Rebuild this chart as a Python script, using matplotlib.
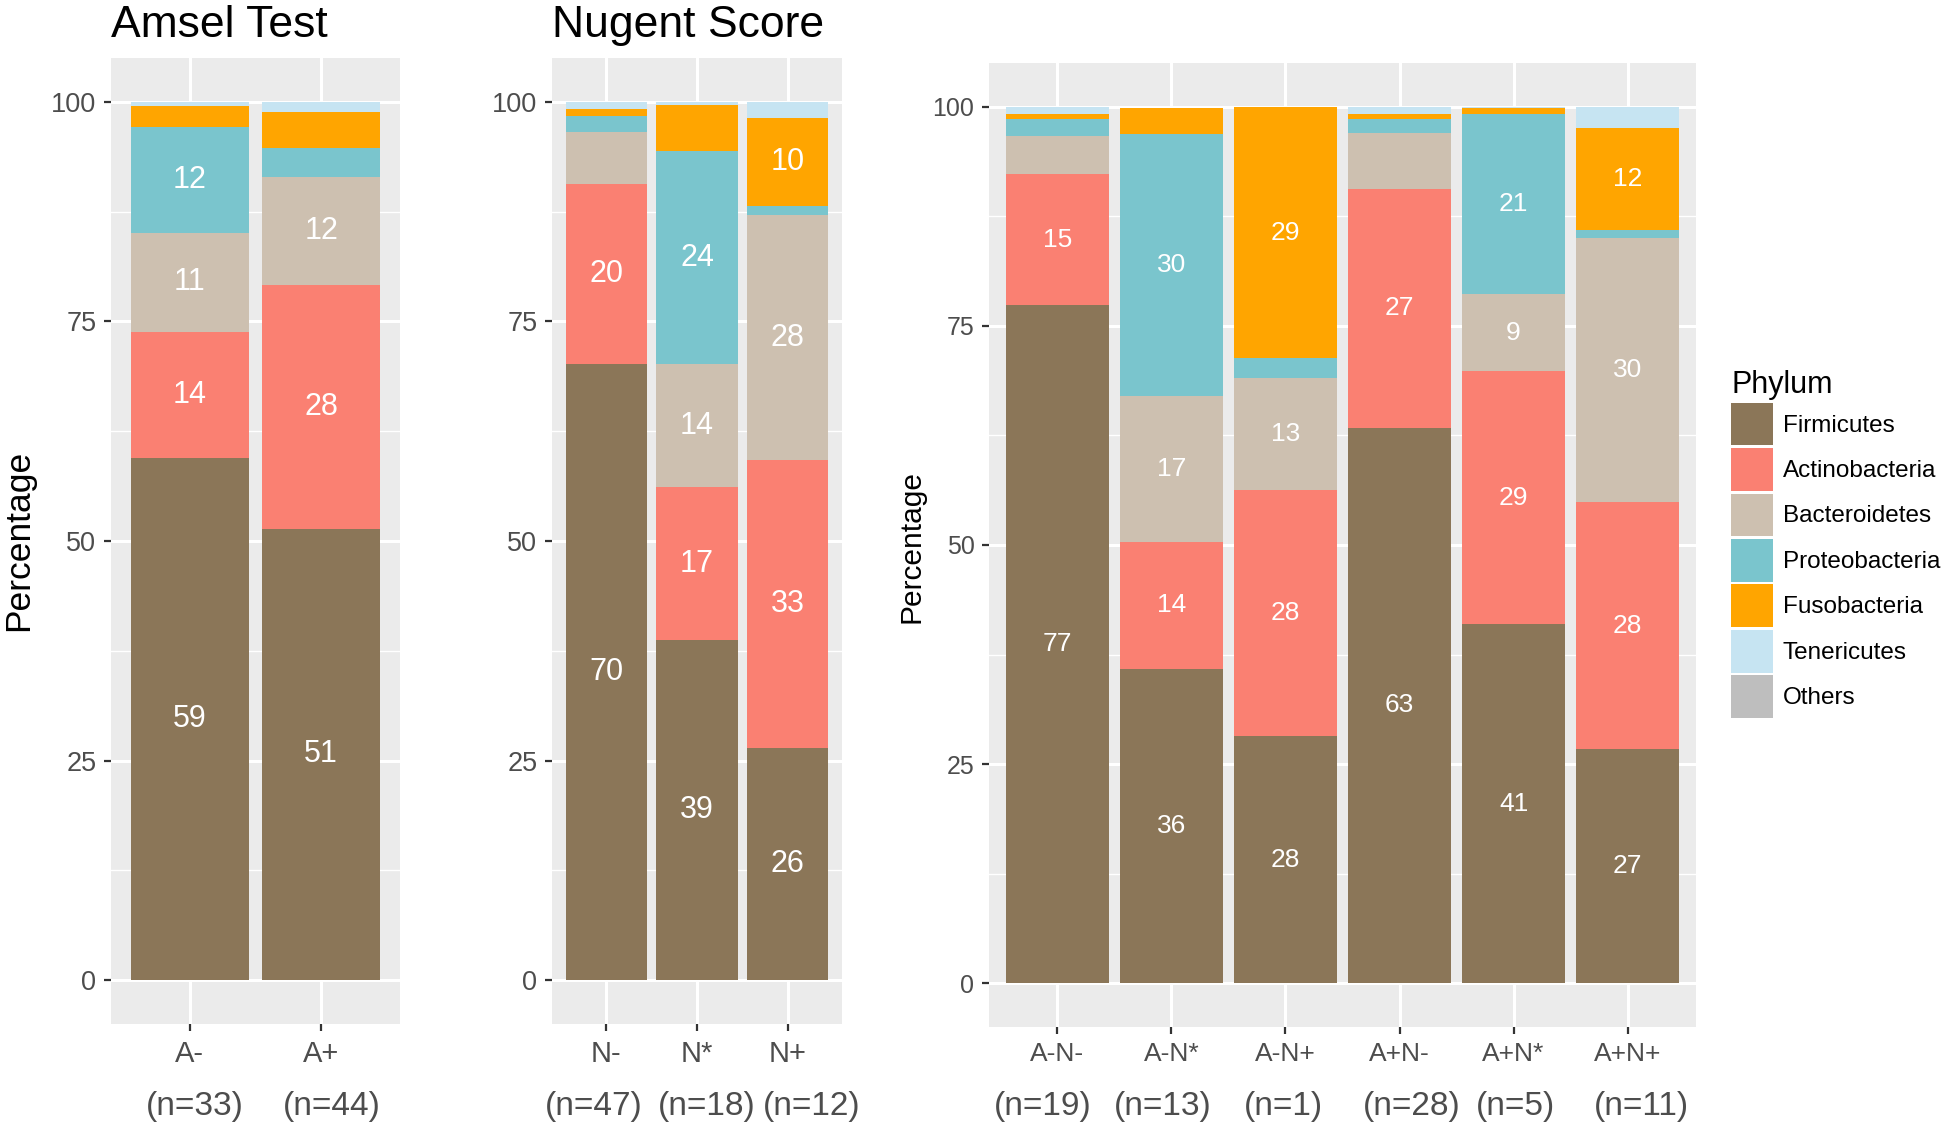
import matplotlib

matplotlib.use("Agg")
import matplotlib.pyplot as plt
import numpy as np
from matplotlib.patches import Patch

plt.rcParams["font.family"] = ["Liberation Sans", "DejaVu Sans"]

W, H = 1946, 1126

phyla = ["Firmicutes", "Actinobacteria", "Bacteroidetes", "Proteobacteria",
         "Fusobacteria", "Tenericutes", "Others"]

# percentages, one row per phylum (Firmicutes .. Tenericutes), one column per group
amsel_groups = ["A-", "A+"]
amsel_n = ["(n=33)", "(n=44)"]
amsel_values = [
    [59.4, 51.4],
    [14.4, 27.8],
    [11.3, 12.2],
    [12.0, 3.3],
    [2.4, 4.2],
    [0.5, 1.1],
]

nugent_groups = ["N-", "N*", "N+"]
nugent_n = ["(n=47)", "(n=18)", "(n=12)"]
nugent_values = [
    [70.2, 38.7, 26.4],
    [20.4, 17.4, 32.8],
    [6.0, 14.0, 27.9],
    [1.8, 24.3, 1.1],
    [0.8, 5.3, 10.0],
    [0.8, 0.3, 1.8],
]

combo_groups = ["A-N-", "A-N*", "A-N+", "A+N-", "A+N*", "A+N+"]
combo_n = ["(n=19)", "(n=13)", "(n=1)", "(n=28)", "(n=5)", "(n=11)"]
combo_values = [
    [77.4, 35.9, 28.2, 63.4, 41.0, 26.7],
    [14.9, 14.4, 28.1, 27.2, 28.8, 28.2],
    [4.4, 16.7, 12.8, 6.4, 8.8, 30.1],
    [1.9, 29.9, 2.2, 1.6, 20.6, 1.0],
    [0.6, 3.0, 28.7, 0.6, 0.7, 11.6],
    [0.8, 0.0, 0.0, 0.8, 0.1, 2.4],
]

colors = {
    "Firmicutes": "#8B7658",
    "Actinobacteria": "#FA8072",
    "Bacteroidetes": "#CDC0B0",
    "Proteobacteria": "#7AC5CD",
    "Fusobacteria": "#FFA500",
    "Tenericutes": "#C6E4F2",
    "Others": "#BEBEBE",
}


def px_axes(fig, left, top, right, bottom):
    return fig.add_axes([left / W, 1 - bottom / H, (right - left) / W, (bottom - top) / H])


def draw_panel(ax, groups, ns, values, box, label_size, ytick_size, xtick_size, xpad, n_shift):
    left, top, right, bottom = box
    x = np.arange(1, len(groups) + 1)
    base = np.zeros(len(groups))
    for name, row in zip(phyla, values):
        row = np.asarray(row, dtype=float)
        ax.bar(x, row, bottom=base, width=0.9, color=colors[name], linewidth=0, zorder=2)
        for xi, b, v in zip(x, base, row):
            if v >= 8.5:
                ax.text(xi, b + v / 2, f"{v:.0f}", ha="center", va="center",
                        color="white", fontsize=label_size, zorder=3)
        base += row

    ax.set_xlim(0.4, len(groups) + 0.6)
    ax.set_ylim(-5, 105)
    ax.set_facecolor("#EBEBEB")
    ax.set_yticks([0, 25, 50, 75, 100])
    ax.set_yticks([12.5, 37.5, 62.5, 87.5], minor=True)
    ax.set_xticks(x, groups)
    ax.set_axisbelow(True)
    ax.grid(which="major", color="white", linewidth=2.2, zorder=0)
    ax.grid(which="minor", axis="y", color="white", linewidth=1.0, zorder=0)
    for spine in ax.spines.values():
        spine.set_visible(False)
    ax.tick_params(which="minor", length=0)
    ax.tick_params(axis="y", which="major", length=5, width=1.6, color="#333333",
                   labelsize=ytick_size, labelcolor="#4D4D4D", pad=5.5)
    ax.tick_params(axis="x", which="major", length=5, width=1.6, color="#333333",
                   labelsize=xtick_size, labelcolor="#4D4D4D", pad=xpad)

    # sample-size labels sit under the tick labels, nudged sideways as in the figure
    n_y = -(1106 - bottom) / (bottom - top)
    for xi, dx, n in zip(x, n_shift, ns):
        ax.text(xi + dx, n_y, n, transform=ax.get_xaxis_transform(), ha="center", va="center",
                fontsize=24, color="#4D4D4D")


fig = plt.figure(figsize=(W / 100, H / 100), dpi=100)

box1 = (111, 58, 400, 1024)
box2 = (552, 58, 842, 1024)
box3 = (989, 63, 1696, 1027)

ax1 = px_axes(fig, *box1)
draw_panel(ax1, amsel_groups, amsel_n, amsel_values, box1, 22, 19.5, 21, 6.5, [0.04, 0.08])
ax1.set_title("Amsel Test", loc="left", pad=15, fontsize=32)

ax2 = px_axes(fig, *box2)
draw_panel(ax2, nugent_groups, nugent_n, nugent_values, box2, 22, 19.5, 21, 6.5,
           [-0.14, 0.11, 0.27])
ax2.set_title("Nugent Score", loc="left", pad=15, fontsize=32)

ax3 = px_axes(fig, *box3)
draw_panel(ax3, combo_groups, combo_n, combo_values, box3, 19, 18, 19, 6,
           [-0.13, -0.08, -0.02, 0.11, 0.02, 0.12])

fig.text(19 / W, 1 - 540 / H, "Percentage", rotation=90, ha="center", va="center", fontsize=25.5)
fig.text(912 / W, 1 - 546 / H, "Percentage", rotation=90, ha="center", va="center", fontsize=21.5)

handles = [Patch(facecolor=colors[p], edgecolor="none") for p in phyla]
fig.legend(handles, phyla, loc="upper left", bbox_to_anchor=(1731 / W, 1 - 370 / H),
           frameon=False, title="Phylum", alignment="left", fontsize=17.5, title_fontsize=22,
           handlelength=1.74, handleheight=2.33, labelspacing=0.11, handletextpad=0.38,
           borderpad=0, borderaxespad=0)

fig.savefig("out.png", dpi=100)
plt.close(fig)
